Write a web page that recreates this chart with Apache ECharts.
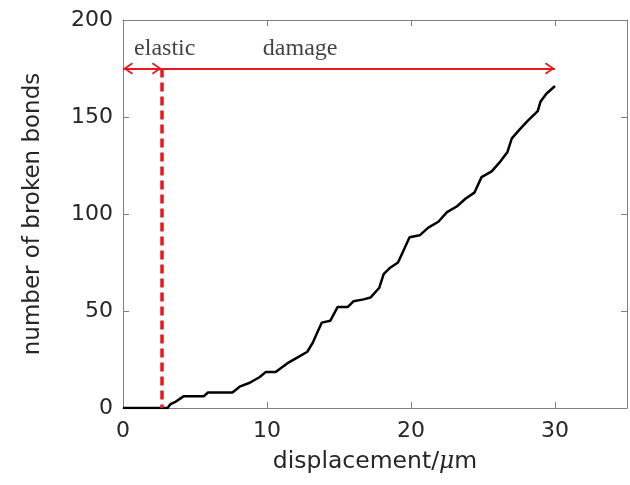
<!DOCTYPE html>
<html>
<head>
<meta charset="utf-8">
<script src="https://cdn.jsdelivr.net/npm/echarts@6/dist/echarts.min.js"></script>
<style>
  html, body { margin: 0; padding: 0; background: #fff; }
  #chart { width: 630px; height: 485px; }
</style>
</head>
<body>
<div id="chart"></div>
<script>
// curve
const displacement = [0, 2.7, 3.1, 3.3, 3.6, 4.2, 5.6, 5.9, 7.6, 8.1, 8.8, 9.5, 9.9, 10.6, 11.4, 12.1, 12.8, 13.2, 13.5, 13.8, 14.4, 14.9, 15.6, 16.0, 16.7, 17.2, 17.8, 18.1, 18.5, 19.1, 19.9, 20.6, 21.2, 21.9, 22.5, 23.2, 23.8, 24.4, 24.9, 25.6, 26.2, 26.7, 27.0, 27.6, 28.1, 28.8, 29.0, 29.4, 30.0]
const brokenBonds = [0, 0, 0, 2, 3, 6, 6, 8, 8, 11, 13, 16, 18.5, 18.5, 23, 26, 29, 34, 39, 44, 45, 52, 52, 55, 56, 57, 62, 69, 72, 75, 88, 89, 93, 96, 101, 104, 108, 111, 119, 122, 127, 132, 139, 144, 148, 153, 158, 162, 166]

// annotation
const elasticEnd = 2.7
const damageEnd = 30
const arrowLevel = 175
const regionNames = ['elastic', 'damage']
const regionNameX = [2.9, 12.3]
const regionNameY = 185

const xTicks = { min: 0, max: 35, interval: 10 }
const yTicks = { min: 0, max: 200, interval: 50 }

const red = '#e8191f'
const axisGray = '#808080'
const textColor = '#262626'
// chevron pointing up, tip at symbol centre
const chevron = 'path://M6,0 L6.1,0 L6,0.1 Z M6,10 L12,18.6 L10.6,19.6 L6,13 L1.4,19.6 L0,18.6 Z'

const myChart = echarts.init(document.getElementById('chart'))

const tickStyle = { show: true, inside: true, length: 6, lineStyle: { color: axisGray } }
const lineStyle = { show: true, onZero: false, lineStyle: { color: axisGray, width: 1 } }

myChart.setOption({
  animation: false,
  grid: { left: 123, right: 3, top: 20, bottom: 77, outerBoundsMode: 'none' },
  xAxis: [
    {
      type: 'value', ...xTicks,
      name: 'displacement/{it|μ}m',
      nameLocation: 'middle',
      nameGap: 42,
      nameTextStyle: {
        fontFamily: 'DejaVu Sans', fontSize: 23.5, color: textColor,
        rich: { it: { fontFamily: 'DejaVu Serif', fontStyle: 'italic', fontSize: 23.5, color: textColor } }
      },
      axisLine: lineStyle,
      axisTick: tickStyle,
      splitLine: { show: false },
      axisLabel: { fontFamily: 'DejaVu Sans', fontSize: 22, color: textColor, margin: 12, showMaxLabel: false }
    },
    {
      type: 'value', ...xTicks, position: 'top',
      axisLine: lineStyle, axisTick: tickStyle,
      axisLabel: { show: false }, splitLine: { show: false }
    }
  ],
  yAxis: [
    {
      type: 'value', ...yTicks,
      name: 'number of broken bonds',
      nameLocation: 'middle',
      nameGap: 78,
      nameTextStyle: { fontFamily: 'DejaVu Sans', fontSize: 23, color: textColor },
      axisLine: lineStyle,
      axisTick: tickStyle,
      splitLine: { show: false },
      axisLabel: { fontFamily: 'DejaVu Sans', fontSize: 22, color: textColor, margin: 10 }
    },
    {
      type: 'value', ...yTicks, position: 'right',
      axisLine: lineStyle,
      axisTick: tickStyle,
      axisLabel: { show: false }, splitLine: { show: false }
    }
  ],
  series: [
    {
      type: 'line',
      data: displacement.map((d, i) => [d, brokenBonds[i]]),
      showSymbol: false,
      lineStyle: { color: '#000', width: 2.5 },
      z: 3
    },
    {
      type: 'line',
      data: [],
      markLine: {
        silent: true,
        animation: false,
        label: { show: false },
        emphasis: { disabled: true },
        data: [
          [
            { coord: [0, arrowLevel], symbol: chevron, symbolSize: [12, 20] },
            { coord: [elasticEnd, arrowLevel], symbol: chevron, symbolSize: [12, 20] }
          ],
          [
            { coord: [elasticEnd, arrowLevel], symbol: 'none' },
            { coord: [damageEnd, arrowLevel], symbol: chevron, symbolSize: [12, 20] }
          ],
          [
            { coord: [elasticEnd, arrowLevel], symbol: 'none', lineStyle: { type: [9, 5], width: 3.5 } },
            { coord: [elasticEnd, 0], symbol: 'none' }
          ]
        ],
        lineStyle: { color: red, width: 2, type: 'solid' }
      },
      z: 4
    },
    {
      type: 'scatter',
      symbolSize: 0,
      silent: true,
      data: regionNames.map((n, i) => [regionNameX[i], regionNameY, n]),
      label: {
        show: true,
        position: 'inside',
        formatter: p => p.value[2],
        fontFamily: 'Liberation Serif',
        fontSize: 24,
        color: '#111'
      }
    }
  ]
})
</script>
</body>
</html>
